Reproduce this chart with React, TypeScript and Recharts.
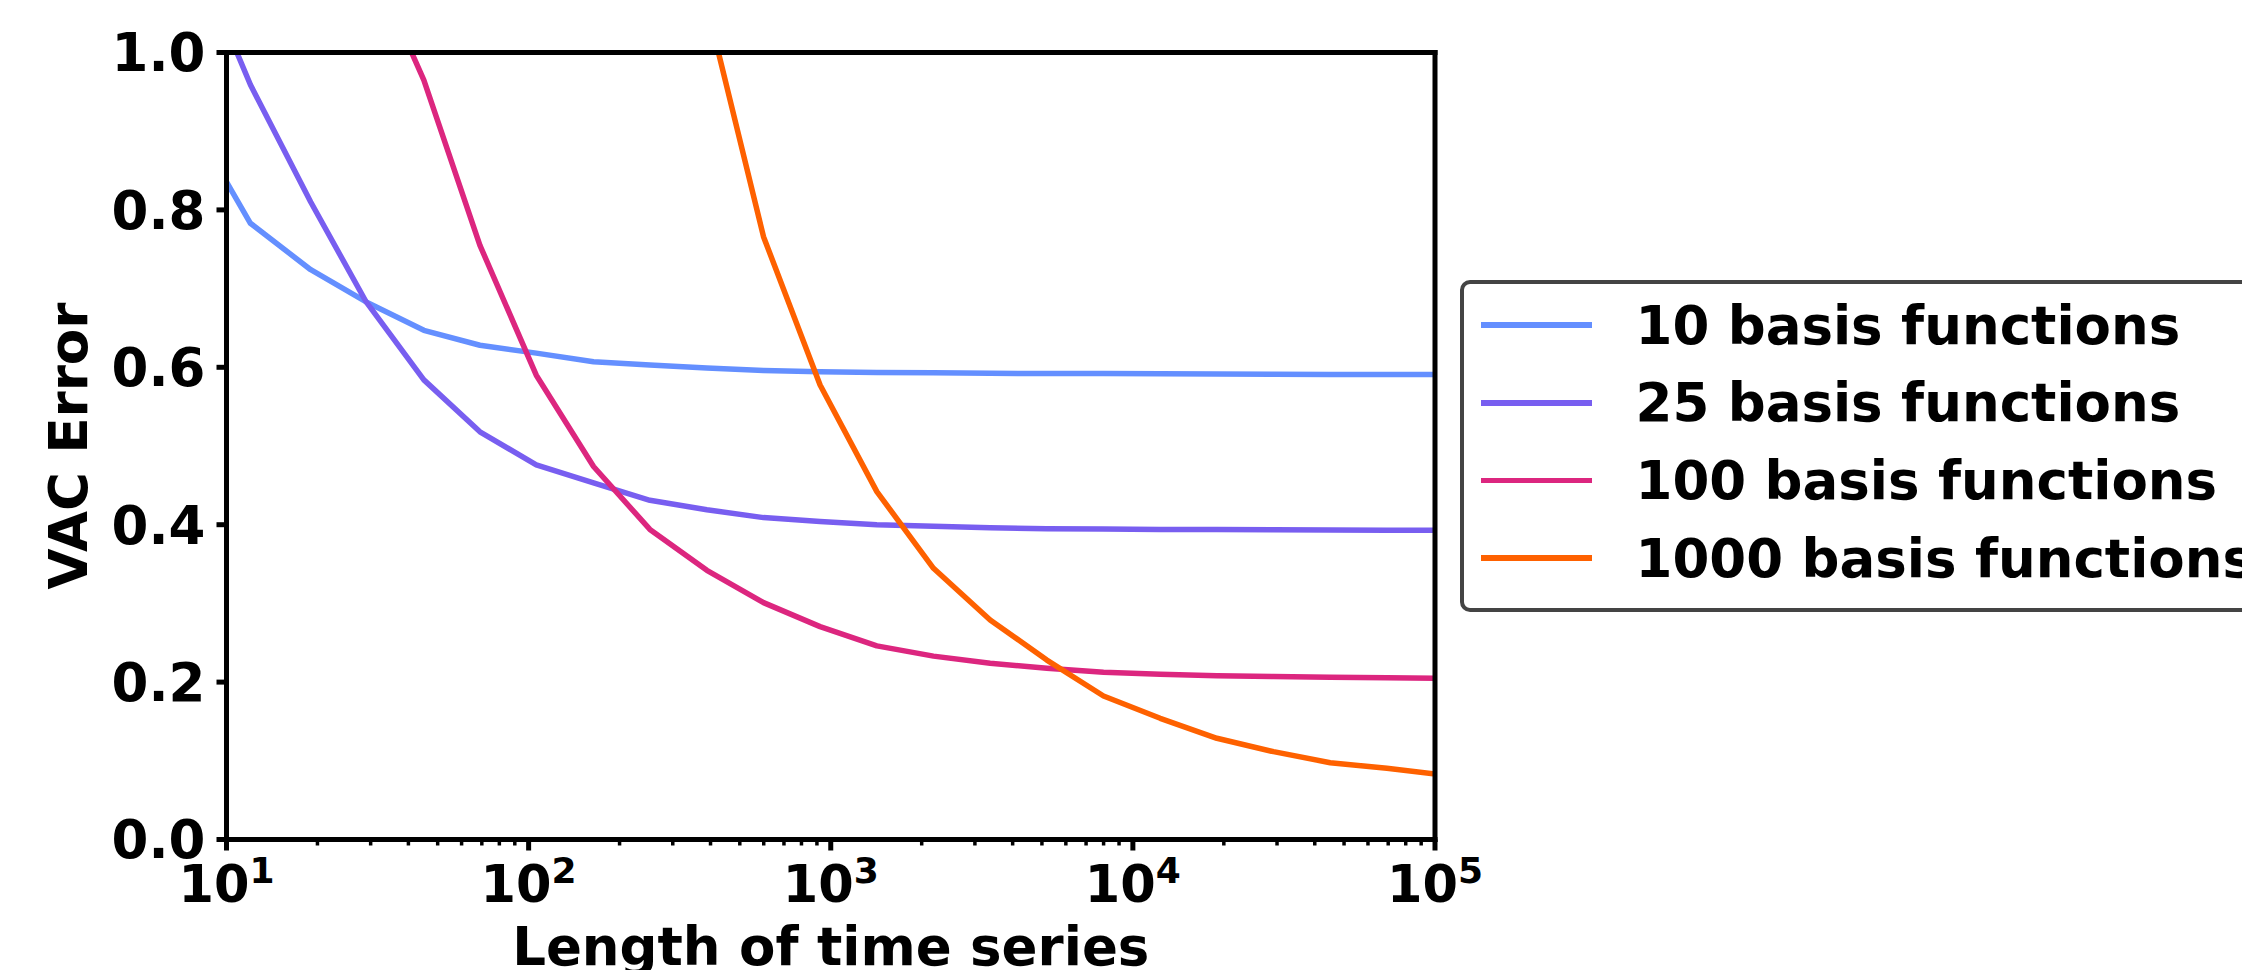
import { Legend, Line, LineChart, ReferenceLine, XAxis, YAxis } from "recharts";

// series lengths (log-spaced), first and last points lie just outside the axis range
const lengths = [
  8, 12, 19, 29, 45, 69, 106, 164, 252, 389, 599, 922, 1421, 2188, 3370, 5191,
  7996, 12315, 18968, 29215, 44998, 69308, 106750,
];

const basis10 = [
  0.9, 0.783, 0.724, 0.683, 0.647, 0.628, 0.618, 0.607, 0.603, 0.599, 0.596,
  0.5945, 0.5935, 0.593, 0.5925, 0.592, 0.592, 0.5918, 0.5915, 0.5913, 0.591,
  0.591, 0.591,
];
const basis25 = [
  1.12, 0.959, 0.81, 0.683, 0.584, 0.518, 0.476, 0.453, 0.431, 0.419, 0.409,
  0.404, 0.4, 0.398, 0.396, 0.395, 0.3945, 0.394, 0.3938, 0.3935, 0.3933,
  0.393, 0.393,
];
const basis100 = [
  null, null, null, 1.13, 0.965, 0.755, 0.59, 0.474, 0.394, 0.342, 0.301,
  0.2705, 0.246, 0.233, 0.224, 0.2175, 0.2125, 0.21, 0.208, 0.207, 0.2062,
  0.2056, 0.2047,
];
const basis1000 = [
  null, null, null, null, null, null, null, null, null, 1.06, 0.766, 0.5775,
  0.442, 0.3446, 0.279, 0.228, 0.1823, 0.154, 0.1286, 0.1116, 0.0976, 0.0904,
  0.082,
];

const majorTicks = [10, 100, 1000, 10000, 100000];
const minorSteps = [2, 3, 4, 5, 6, 7, 8, 9];
const xTicks = [
  ...majorTicks,
  ...majorTicks.slice(0, 4).flatMap((d) => minorSteps.map((m) => d * m)),
];
const yTicks = [0, 0.2, 0.4, 0.6, 0.8, 1.0];

const series = [
  { key: "b10", name: "10 basis functions", color: "#648FFF" },
  { key: "b25", name: "25 basis functions", color: "#785EF0" },
  { key: "b100", name: "100 basis functions", color: "#DC267F" },
  { key: "b1000", name: "1000 basis functions", color: "#FE6100" },
];

const data = lengths.map((x, i) => ({
  x,
  b10: basis10[i],
  b25: basis25[i],
  b100: basis100[i],
  b1000: basis1000[i],
}));

const FONT = "'DejaVu Sans', sans-serif";
const spine = { stroke: "#000", strokeWidth: 5, strokeLinecap: "square" as const };

function LogTick(props: any) {
  const { x, y, payload } = props;
  const v = payload.value as number;
  const exp = Math.round(Math.log10(v));
  const major = Math.abs(Math.log10(v) - exp) < 1e-9;
  return (
    <g>
      <line
        x1={x}
        y1={y}
        x2={x}
        y2={y + (major ? 11 : 6)}
        stroke="#000"
        strokeWidth={major ? 5 : 3.5}
      />
      {major && (
        <text
          x={x}
          y={y + 62.5}
          textAnchor="middle"
          fontFamily={FONT}
          fontWeight="bold"
          fill="#000"
        >
          <tspan fontSize={51}>10</tspan>
          <tspan fontSize={36} dy={-19}>
            {exp}
          </tspan>
        </text>
      )}
    </g>
  );
}

function LegendBox() {
  return (
    <div
      style={{
        boxSizing: "border-box",
        width: 840,
        height: 332,
        border: "4.5px solid #444",
        borderRadius: 10,
        background: "#fff",
        paddingTop: 2.8,
        paddingLeft: 17,
        fontFamily: FONT,
      }}
    >
      {series.map((s) => (
        <div key={s.key} style={{ display: "flex", alignItems: "center", height: 77.7 }}>
          <span style={{ width: 111, height: 5.5, background: s.color, marginRight: 44 }} />
          <span style={{ fontSize: 53, fontWeight: "bold", lineHeight: 1, whiteSpace: "nowrap", color: "#000" }}>
            {s.name}
          </span>
        </div>
      ))}
    </div>
  );
}

export default function App() {
  return (
    <div
      style={{
        position: "absolute",
        left: 0,
        top: 0,
        width: 2242,
        height: 970,
        overflow: "hidden",
        background: "#fff",
      }}
    >
      <LineChart
        width={2242}
        height={970}
        data={data}
        margin={{ top: 52.5, right: 807, bottom: 70.5, left: 106.5 }}
      >
        <XAxis
          dataKey="x"
          type="number"
          scale="log"
          domain={[10, 100000]}
          allowDataOverflow
          ticks={xTicks}
          interval={0}
          tick={<LogTick />}
          tickLine={false}
          tickSize={0}
          tickMargin={0}
          axisLine={spine}
          height={60}
          label={() => (
            <text
              x={830.75}
              y={965}
              textAnchor="middle"
              fontFamily={FONT}
              fontWeight="bold"
              fontSize={53}
              fill="#000"
            >
              Length of time series
            </text>
          )}
        />
        <YAxis
          type="number"
          domain={[0, 1]}
          allowDataOverflow
          ticks={yTicks}
          tickFormatter={(v: number) => v.toFixed(1)}
          tick={{ fontSize: 53, fontWeight: "bold", fill: "#000", fontFamily: FONT }}
          tickLine={{ stroke: "#000", strokeWidth: 5 }}
          tickSize={10}
          tickMargin={11}
          axisLine={spine}
          width={120}
          label={() => (
            <text
              x={87}
              y={446}
              transform="rotate(-90 87 446)"
              textAnchor="middle"
              fontFamily={FONT}
              fontWeight="bold"
              fontSize={53}
              fill="#000"
            >
              VAC Error
            </text>
          )}
        />
        {series.map((s) => (
          <Line
            key={s.key}
            type="linear"
            dataKey={s.key}
            name={s.name}
            stroke={s.color}
            strokeWidth={5.5}
            strokeLinejoin="round"
            dot={false}
            activeDot={false}
            isAnimationActive={false}
          />
        ))}
        {/* top and right spines */}
        <ReferenceLine y={1} stroke="#000" strokeWidth={5} strokeLinecap="square" />
        <ReferenceLine x={100000} stroke="#000" strokeWidth={5} strokeLinecap="square" />
        <Legend
          layout="vertical"
          align="center"
          verticalAlign="middle"
          wrapperStyle={{ left: 1459.5, top: 279.5, width: 840, height: 332 }}
          content={() => <LegendBox />}
        />
      </LineChart>
    </div>
  );
}
